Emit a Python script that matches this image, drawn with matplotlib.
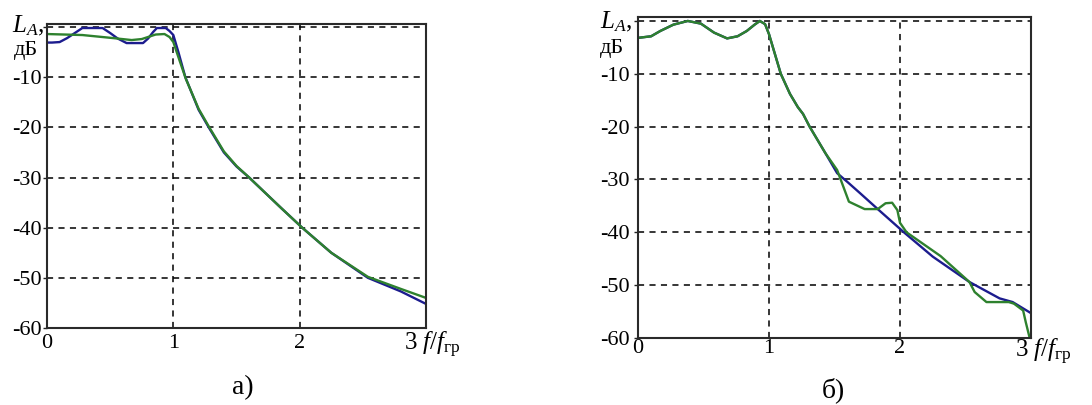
import numpy as np
import matplotlib
matplotlib.use("Agg")
import matplotlib.pyplot as plt

plt.rcParams['font.family'] = ['Liberation Serif', 'DejaVu Serif']
plt.rcParams['mathtext.fontset'] = 'custom'
plt.rcParams['mathtext.rm'] = 'Liberation Serif'
plt.rcParams['mathtext.it'] = 'Liberation Serif:italic'

# ---- panel a) ----
fa_blue = [0, 0.04, 0.1, 0.16, 0.22, 0.28, 0.44, 0.5, 0.56, 0.63, 0.76, 0.8, 0.84,
           0.87, 0.94, 0.97, 1.0, 1.04, 1.095, 1.2, 1.28, 1.4, 1.5, 1.6, 1.7, 1.85,
           2.02, 2.25, 2.54, 2.8, 3.0]
La_blue = [-3.1, -3.1, -3.0, -2.2, -1.2, -0.2, -0.2, -1.2, -2.3, -3.2, -3.2, -2.3,
           -1.0, -0.2, -0.2, -0.8, -1.6, -5.0, -10.0, -16.5, -20.0, -25.0, -27.8,
           -30.0, -32.4, -36.0, -40.0, -45.0, -50.0, -52.7, -55.2]

fa_green = [0, 0.28, 0.52, 0.67, 0.75, 0.86, 0.93, 0.97, 1.0, 1.04, 1.1, 1.2, 1.28,
            1.4, 1.5, 1.6, 1.7, 1.85, 2.02, 2.25, 2.54, 2.8, 3.0]
La_green = [-1.4, -1.6, -2.2, -2.6, -2.4, -1.5, -1.4, -2.0, -3.0, -6.0, -10.4,
            -16.3, -19.8, -24.8, -27.7, -30.0, -32.4, -36.0, -40.0, -45.0, -49.8,
            -52.2, -54.0]

# ---- panel б) ----
fb_blue = [0, 0.1, 0.17, 0.27, 0.38, 0.48, 0.58, 0.68, 0.76, 0.83, 0.89, 0.93, 0.97,
           1.0, 1.03, 1.09, 1.16, 1.22, 1.26, 1.31, 1.43, 1.52, 1.6, 1.7, 1.83, 1.93,
           2.03, 2.25, 2.53, 2.76, 2.86, 3.0]
Lb_blue = [-3.2, -2.9, -1.9, -0.7, 0.0, -0.5, -2.2, -3.3, -2.9, -1.9, -0.7, 0.0,
           -0.6, -2.5, -5.0, -10.0, -13.8, -16.3, -17.6, -20.0, -25.0, -28.8, -30.5,
           -32.7, -35.6, -37.8, -40.0, -44.6, -49.4, -52.5, -53.2, -55.3]

fb_green = [0, 0.1, 0.17, 0.27, 0.38, 0.48, 0.58, 0.68, 0.76, 0.83, 0.89, 0.93, 0.97,
            1.0, 1.03, 1.09, 1.16, 1.22, 1.26, 1.31, 1.43, 1.52, 1.61, 1.73, 1.83,
            1.89, 1.94, 1.98, 2.0, 2.05, 2.31, 2.53, 2.57, 2.66, 2.83, 2.87, 2.94,
            2.96, 2.99]
Lb_green = [-3.2, -2.9, -1.9, -0.7, 0.0, -0.5, -2.2, -3.3, -2.9, -1.9, -0.7, 0.0,
            -0.6, -2.5, -5.0, -10.0, -13.8, -16.3, -17.6, -20.0, -25.0, -28.2, -34.2,
            -35.6, -35.6, -34.5, -34.4, -35.8, -38.2, -40.0, -44.5, -49.4, -51.3,
            -53.2, -53.2, -53.5, -54.8, -57.0, -60.0]

yticks = [-60, -50, -40, -30, -20, -10, 0]
ylabels = ['-60', '-50', '-40', '-30', '-20', '-10', '']
xticks = [0, 1, 2, 3]
xlabels = ['0', '1', '2', '']

blue = '#1c1c8e'
green = '#2e812e'

W, H = 1092, 405
fig = plt.figure(figsize=(W / 100, H / 100), dpi=100)


def px_axes(x0, y0, x1, y1):
    return fig.add_axes([x0 / W, 1 - y1 / H, (x1 - x0) / W, (y1 - y0) / H])


def style(ax, ytop, xpad, ypad):
    ax.set_xlim(0, 3)
    ax.set_ylim(-60, ytop)
    ax.set_xticks(xticks)
    ax.set_xticklabels(xlabels)
    ax.set_yticks(yticks)
    ax.set_yticklabels(ylabels)
    ax.tick_params(axis='both', labelsize=16, length=3, width=1, color='#222222')
    ax.tick_params(axis='x', pad=xpad, length=0)
    ax.tick_params(axis='y', pad=ypad)
    ax.grid(True, color='black', linestyle=(0, (4, 3.5)), linewidth=1.1)
    for s in ax.spines.values():
        s.set_linewidth(1.5)
        s.set_color('#2a2a2a')


# panel a
ax1 = px_axes(47, 24, 426, 328)
ax1.plot(fa_blue, La_blue, color=blue, lw=1.7)
ax1.plot(fa_green, La_green, color=green, lw=1.7)
style(ax1, 0.6, 4, 1)

# panel б
ax2 = px_axes(638, 17, 1031, 338)
ax2.plot(fb_blue, Lb_blue, color=blue, lw=1.7)
ax2.plot(fb_green, Lb_green, color=green, lw=1.7)
style(ax2, 0.75, 1, 3)

# axis labels
fig.text(28 / W, 1 - 26 / H, '$L_A$,', fontsize=18, ha='center', va='center')
fig.text(26 / W, 1 - 50 / H, 'дБ', fontsize=16, ha='center', va='center')
fig.text(616 / W, 1 - 22 / H, '$L_A$,', fontsize=18, ha='center', va='center')
fig.text(612 / W, 1 - 49 / H, 'дБ', fontsize=16, ha='center', va='center')

fig.text(404 / W, 1 - 345 / H, '3 $f/f_{\\mathrm{гр}}$', fontsize=18,
         ha='left', va='center')
fig.text(1015 / W, 1 - 352 / H, '3 $f/f_{\\mathrm{гр}}$', fontsize=18,
         ha='left', va='center')

# captions
fig.text(243 / W, 1 - 388 / H, 'а)', fontsize=20, ha='center', va='center')
fig.text(833 / W, 1 - 390 / H, 'б)', fontsize=20, ha='center', va='center')

fig.savefig('out.png', dpi=100)
